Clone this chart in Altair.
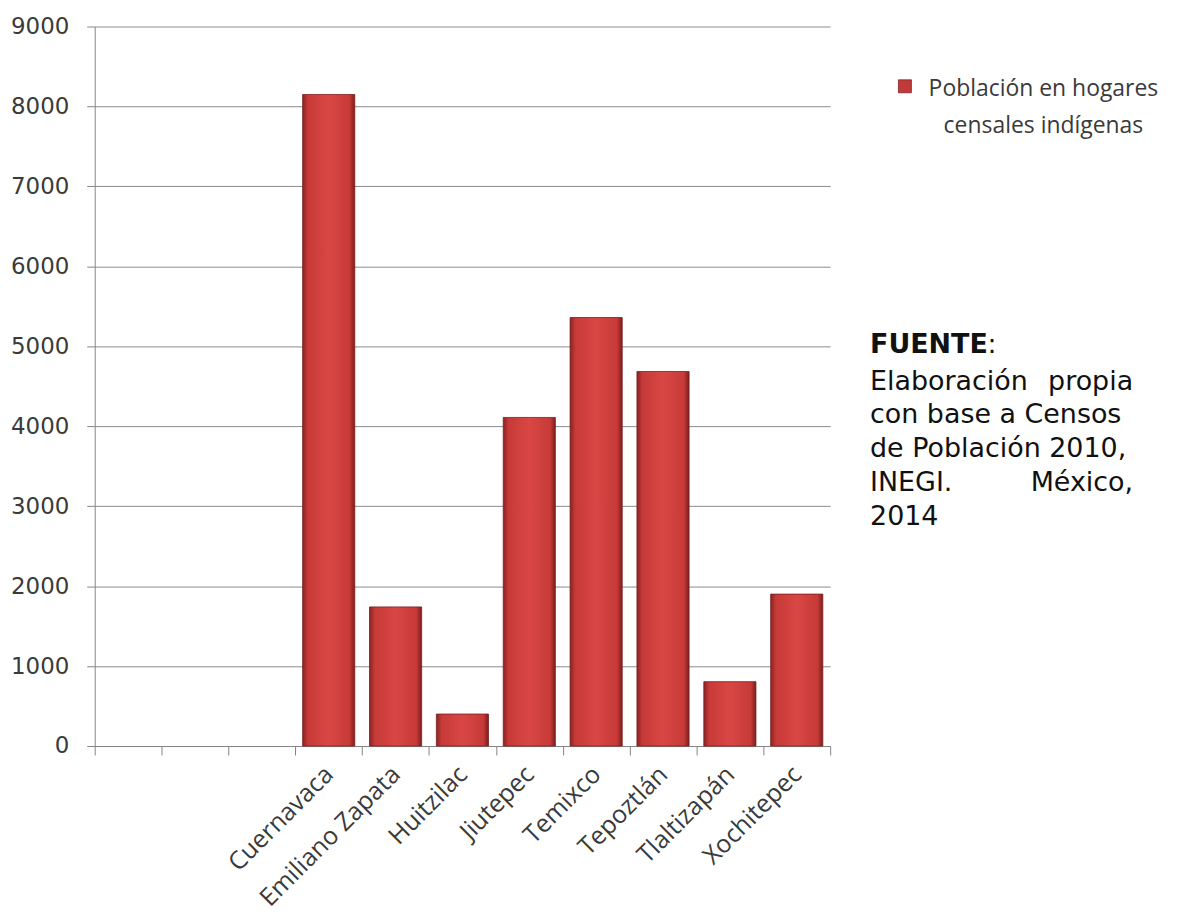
import altair as alt
import pandas as pd

# ---- data ----
slots = [" ", "  ", "   "]  # three empty category slots at the start
municipios = ["Cuernavaca", "Emiliano Zapata", "Huitzilac", "Jiutepec",
              "Temixco", "Tepoztlán", "Tlaltizapán", "Xochitepec"]
poblacion = [8150, 1740, 400, 4110, 5360, 4685, 805, 1900]
y_ticks = [0, 1000, 2000, 3000, 4000, 5000, 6000, 7000, 8000, 9000]
legend_lines = ["Población en hogares", "censales indígenas"]

df = pd.DataFrame({"Municipio": municipios, "Poblacion": poblacion})
one = pd.DataFrame({"k": [0]})

W, H = 738, 722
axis_gray = "#868686"
text_gray = "#3a3a3a"

bar_fill = alt.Gradient(
    gradient="linear", x1=0, x2=1, y1=0, y2=0,
    stops=[
        alt.GradientStop(color="#8a2222", offset=0),
        alt.GradientStop(color="#c63a38", offset=0.1),
        alt.GradientStop(color="#d94744", offset=0.5),
        alt.GradientStop(color="#c63a38", offset=0.9),
        alt.GradientStop(color="#7a1d1d", offset=1),
    ],
)

bars = alt.Chart(df).mark_bar(
    color=bar_fill, stroke="#7a2020", strokeWidth=0.8,
    width=alt.RelativeBandSize(0.78),
).encode(
    x=alt.X(
        "Municipio:N",
        sort=None,
        scale=alt.Scale(domain=slots + municipios, paddingInner=0, paddingOuter=0),
        axis=alt.Axis(
            title=None, labelAngle=-45, labelAlign="right", labelBaseline="middle",
            labelFont="Open Sans", labelFontSize=25, labelColor=text_gray,
            labelPadding=15, labelLimit=400, tickBand="extent", tickSize=9,
            tickColor=axis_gray, domainColor=axis_gray, grid=False,
            labelOverlap=False,
        ),
    ),
    y=alt.Y(
        "Poblacion:Q",
        scale=alt.Scale(domain=[0, 9000], nice=False),
        axis=alt.Axis(
            title=None, values=y_ticks, format="d",
            labelFont="DejaVu Sans", labelFontSize=23, labelColor=text_gray,
            labelPadding=18, tickSize=8, tickColor=axis_gray,
            domainColor=axis_gray, gridColor="#8c8c8c", gridWidth=1,
        ),
    ),
)

ann = alt.Chart(one)

legend_sq = ann.mark_square(size=169, color="#c0393b", stroke="#8a2020",
                            strokeWidth=0.8, opacity=1).encode(
    x=alt.value(813), y=alt.value(60))
legend_t1 = ann.mark_text(font="Open Sans", fontSize=23, color=text_gray,
                          align="center", baseline="alphabetic").encode(
    x=alt.value(952), y=alt.value(70), text=alt.value(legend_lines[0]))
legend_t2 = ann.mark_text(font="Open Sans", fontSize=23, color=text_gray,
                          align="center", baseline="alphabetic").encode(
    x=alt.value(952), y=alt.value(107), text=alt.value(legend_lines[1]))

src_font = dict(font="DejaVu Sans", fontSize=27, color="#111111", baseline="alphabetic")
L, R = 778, 1042
src = [
    ann.mark_text(align="left", fontWeight="bold", **src_font).encode(
        x=alt.value(L), y=alt.value(328), text=alt.value("FUENTE")),
    ann.mark_text(align="left", **src_font).encode(
        x=alt.value(L + 118), y=alt.value(328), text=alt.value(":")),
    ann.mark_text(align="left", **src_font).encode(
        x=alt.value(L), y=alt.value(365), text=alt.value("Elaboración")),
    ann.mark_text(align="right", **src_font).encode(
        x=alt.value(R), y=alt.value(365), text=alt.value("propia")),
    ann.mark_text(align="left", **src_font).encode(
        x=alt.value(L), y=alt.value(398), text=alt.value("con base a Censos")),
    ann.mark_text(align="left", **src_font).encode(
        x=alt.value(L), y=alt.value(432), text=alt.value("de Población 2010,")),
    ann.mark_text(align="left", **src_font).encode(
        x=alt.value(L), y=alt.value(466), text=alt.value("INEGI.")),
    ann.mark_text(align="right", **src_font).encode(
        x=alt.value(R), y=alt.value(466), text=alt.value("México,")),
    ann.mark_text(align="left", **src_font).encode(
        x=alt.value(L), y=alt.value(500), text=alt.value("2014")),
]

chart = alt.layer(bars, legend_sq, legend_t1, legend_t2, *src).properties(
    width=W, height=H,
    padding={"left": 87, "top": 17, "right": 340, "bottom": 170},
    autosize=alt.AutoSizeParams(type="none"),
    background="white",
).configure_view(stroke=None)

chart.save("out.html", embed_options={"renderer": "svg", "actions": False})
